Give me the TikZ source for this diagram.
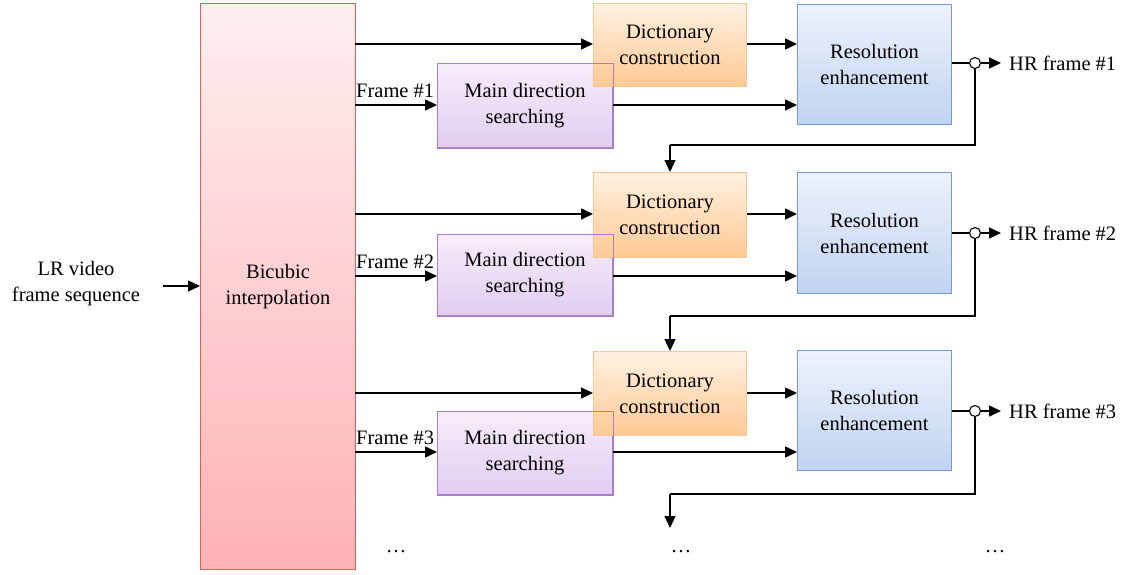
\documentclass[tikz,border=0pt]{standalone}
\usepackage{fontspec}
\setmainfont{Liberation Serif}
\usetikzlibrary{arrows.meta}
\definecolor{redB}{HTML}{D9605C}
\definecolor{redT}{HTML}{FFEDEF}
\definecolor{redBt}{HTML}{FFB2B5}
\definecolor{orB}{HTML}{FAC594}
\definecolor{orT}{HTML}{FFF1E2}
\definecolor{orBt}{HTML}{FFC993}
\definecolor{puB}{HTML}{A97DCB}
\definecolor{puT}{HTML}{F6EDFA}
\definecolor{puBt}{HTML}{E1CDF1}
\definecolor{blB}{HTML}{6F9BD9}
\definecolor{blT}{HTML}{EDF2FC}
\definecolor{blBt}{HTML}{C0D3F0}
\tikzset{
  box/.style={anchor=north west, inner sep=0pt, align=center, line width=1pt,
    font=\fontsize{20.5}{26}\selectfont},
  bic/.style={box, draw=redB, top color=redT, bottom color=redBt},
  dict/.style={box, draw=orB, top color=orT, bottom color=orBt},
  mds/.style={box, draw=puB, top color=puT, bottom color=puBt},
  res/.style={box, draw=blB, top color=blT, bottom color=blBt},
  arr/.style={line width=1.6pt, -{Triangle[length=12pt,width=11pt]}},
  fb/.style={line width=1.1pt},
  fba/.style={line width=1.1pt, -{Triangle[length=12pt,width=11pt]}},
  lbl/.style={font=\fontsize{20.5}{26}\selectfont, inner sep=0pt, align=center},
  junc/.style={circle, draw, fill=white, line width=1.1pt, minimum size=11pt, inner sep=0pt},
}
\begin{document}
\begin{tikzpicture}[x=1pt,y=-1pt]
\useasboundingbox (0,0) rectangle (1127,574);
% input
\node[lbl] (lr) at (76,284) {LR video\\frame sequence};
\node[bic, minimum width=155pt, minimum height=566pt] (bic) at (200,3) {Bicubic\\interpolation};
\coordinate (lrout) at (163,286);
\draw[arr] (lrout) -- (lrout -| bic.west);

% rows
\foreach \i/\dy/\dh/\my/\mh/\ry/\rh/\ta/\tb/\oy/\fy/\nexty in
  {1/3/83/63/84/4/120/44/105/63/145/172,
   2/172/85/234/81/172/121/214/276/233/316/351,
   3/351/84/411/83/350/120/393/452/411/494/528}{
  \node[mds, minimum width=175pt, minimum height=\mh pt] (m\i) at (437,\my) {Main direction\\searching};
  \node[dict, minimum width=153pt, minimum height=\dh pt] (d\i) at (593,\dy) {Dictionary\\construction};
  \draw[line width=1pt, puB] (m\i.north west) rectangle (m\i.south east);
  \node[res, minimum width=154pt, minimum height=\rh pt] (r\i) at (797,\ry) {Resolution\\enhancement};
  \coordinate (ta\i) at (355,\ta);
  \coordinate (tb\i) at (355,\tb);
  \draw[arr] (ta\i) -- (ta\i -| d\i.west);
  \draw[arr] (tb\i) -- (tb\i -| m\i.west);
  \node[lbl, anchor=south west] (f\i) at (356,\tb-7) {Frame \#\i};
  \draw[arr] (d\i.east |- ta\i) -- (r\i.west |- ta\i);
  \draw[arr] (m\i.east |- tb\i) -- (r\i.west |- tb\i);
  \node[junc] (j\i) at (975,\oy) {};
  \node[lbl, anchor=west] (hr\i) at (1009,\oy) {HR frame \#\i};
  \draw[line width=1.6pt] (r\i.east |- j\i) -- (j\i.west);
  \draw[arr] (j\i.east) -- ([xshift=-8pt]hr\i.west);
  \coordinate (c\i) at (670,\fy);
}
\draw[fb] (j1.south) |- (c1);
\draw[fba] (c1) -- (d2.north -| c1);
\draw[fb] (j2.south) |- (c2);
\draw[fba] (c2) -- (d3.north -| c2);
\draw[fb] (j3.south) |- (c3);
\coordinate (end) at (670,528);
\draw[fba] (c3) -- (end);

\node[lbl] (dots1) at (396,552) {…};
\node[lbl] (dots2) at (681,552) {…};
\node[lbl] (dots3) at (995,552) {…};
\end{tikzpicture}
\end{document}
